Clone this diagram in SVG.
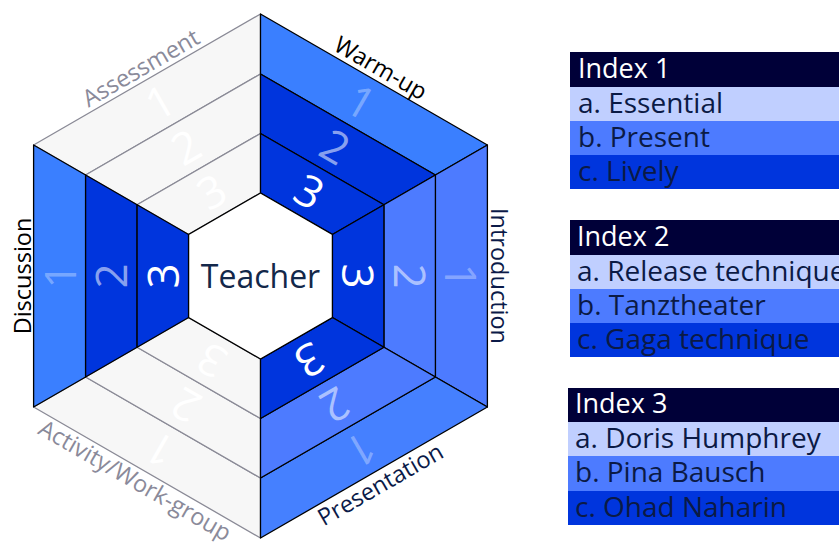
<svg xmlns="http://www.w3.org/2000/svg" width="839" height="545" viewBox="0 0 839 545">
  <style>
    text { font-family: "Open Sans", "Noto Sans", "DejaVu Sans", sans-serif; }
    .g  { fill: #f7f7f7; stroke: #8a8a96; stroke-width: 1.3; stroke-linejoin: round; }
    .b1 { fill: #3a7fff; stroke: #000; stroke-width: 1.3; stroke-linejoin: round; }
    .b2 { fill: #4d7bff; stroke: #000; stroke-width: 1.3; stroke-linejoin: round; }
    .b3 { fill: #0035dd; stroke: #000; stroke-width: 1.3; stroke-linejoin: round; }
    .num { font-size: 44px; text-anchor: middle; fill: #fff; }
    .n1 { fill-opacity: 0.33; }
    .n2 { fill-opacity: 0.55; }
    .side { font-size: 23.5px; text-anchor: middle; }
    .grey { fill: #8a8a9a; }
    .dark { fill: #000; }
    .navy { fill: #0b1a48; }
    .hd { fill: #000038; }
    .ra { fill: #c0cfff; }
    .rb { fill: #4d7bff; }
    .rc { fill: #0035dd; }
    .ht { font-size: 27px; fill: #fff; }
    .rt { font-size: 28px; fill: #0b1a45; }
  </style>

  <!-- Assessment (upper-left side) -->
  <g id="assessment">
    <polygon class="g" points="33.6,145 260.5,14 260.5,74 85.6,175"/>
    <polygon class="g" points="85.6,175 260.5,74 260.5,133.5 137.1,204.75"/>
    <polygon class="g" points="137.1,204.75 260.5,133.5 260.5,193 188.6,234.5"/>
    <text class="num" transform="translate(160,102) rotate(-30)" y="16">1</text>
    <text class="num" transform="translate(185.9,146.8) rotate(-30)" y="16">2</text>
    <text class="num" transform="translate(211.7,191.5) rotate(-30)" y="16">3</text>
    <text class="side grey" transform="translate(145,75) rotate(-30)">Assessment</text>
  </g>

  <!-- Activity/Work-group (lower-left side) -->
  <g id="activity">
    <polygon class="g" points="260.5,538 33.6,407 85.6,377 260.5,478"/>
    <polygon class="g" points="260.5,478 85.6,377 137.1,347.25 260.5,418.5"/>
    <polygon class="g" points="260.5,418.5 137.1,347.25 188.6,317.5 260.5,359"/>
    <text class="num" transform="translate(160,450) rotate(210)" y="16">1</text>
    <text class="num" transform="translate(185.9,405.2) rotate(210)" y="16">2</text>
    <text class="num" transform="translate(211.7,360.5) rotate(210)" y="16">3</text>
    <text class="side grey" transform="translate(131,487.5) rotate(30)">Activity/Work-group</text>
  </g>

  <!-- Warm-up (upper-right side) -->
  <g id="warmup">
    <polygon class="b1" points="260.5,14 487.4,145 435.4,175 260.5,74"/>
    <polygon class="b3" points="260.5,74 435.4,175 383.9,204.75 260.5,133.5"/>
    <polygon class="b3" points="260.5,133.5 383.9,204.75 332.4,234.5 260.5,193"/>
    <text class="num n1" transform="translate(361,102) rotate(30)" y="16">1</text>
    <text class="num n2" transform="translate(335.1,146.8) rotate(30)" y="16">2</text>
    <text class="num" transform="translate(309.3,191.5) rotate(30)" y="16">3</text>
    <text class="side dark" transform="translate(376.5,75) rotate(30)">Warm-up</text>
  </g>

  <!-- Introduction (right side) -->
  <g id="introduction">
    <polygon class="b2" points="487.4,145 487.4,407 435.4,377 435.4,175"/>
    <polygon class="b2" points="435.4,175 435.4,377 383.9,347.25 383.9,204.75"/>
    <polygon class="b3" points="383.9,204.75 383.9,347.25 332.4,317.5 332.4,234.5"/>
    <text class="num n1" transform="translate(461.4,276) rotate(90)" y="16">1</text>
    <text class="num n2" transform="translate(409.7,276) rotate(90)" y="16">2</text>
    <text class="num" transform="translate(358.1,276) rotate(90)" y="16">3</text>
    <text class="side navy" transform="translate(491,276) rotate(90)">Introduction</text>
  </g>

  <!-- Presentation (lower-right side) -->
  <g id="presentation">
    <polygon class="b1" points="487.4,407 260.5,538 260.5,478 435.4,377" style="fill:#4580ff"/>
    <polygon class="b2" points="435.4,377 260.5,478 260.5,418.5 383.9,347.25"/>
    <polygon class="b3" points="383.9,347.25 260.5,418.5 260.5,359 332.4,317.5"/>
    <text class="num n1" transform="translate(361,450) rotate(150)" y="16">1</text>
    <text class="num n2" transform="translate(335.1,405.2) rotate(150)" y="16">2</text>
    <text class="num" transform="translate(309.3,360.5) rotate(150)" y="16">3</text>
    <text class="side navy" transform="translate(384.5,491.5) rotate(-30)">Presentation</text>
  </g>

  <!-- Discussion (left side) -->
  <g id="discussion">
    <polygon class="b1" points="33.6,407 33.6,145 85.6,175 85.6,377"/>
    <polygon class="b3" points="85.6,377 85.6,175 137.1,204.75 137.1,347.25"/>
    <polygon class="b3" points="137.1,347.25 137.1,204.75 188.6,234.5 188.6,317.5"/>
    <text class="num n1" transform="translate(59.6,276) rotate(-90)" y="16">1</text>
    <text class="num n2" transform="translate(111.3,276) rotate(-90)" y="16">2</text>
    <text class="num" transform="translate(162.9,276) rotate(-90)" y="16">3</text>
    <text class="side dark" transform="translate(30.5,276) rotate(-90)">Discussion</text>
  </g>

  <!-- Centre -->
  <g id="teacher">
    <polygon points="260.5,193 332.4,234.5 332.4,317.5 260.5,359 188.6,317.5 188.6,234.5" fill="#fff" stroke="#000" stroke-width="1.3"/>
    <text x="260.5" y="288" font-size="32" text-anchor="middle" fill="#13284a">Teacher</text>
  </g>

  <!-- Legend tables -->
  <g id="index1">
    <rect class="hd" x="570" y="52" width="280" height="35"/>
    <rect class="ra" x="570" y="87" width="280" height="34"/>
    <rect class="rb" x="570" y="121" width="280" height="34"/>
    <rect class="rc" x="570" y="155" width="280" height="34"/>
    <text class="ht" x="578" y="78">Index 1</text>
    <text class="rt" x="578" y="113">a. Essential</text>
    <text class="rt" x="578" y="147">b. Present</text>
    <text class="rt" x="578" y="181">c. Lively</text>
  </g>

  <g id="index2">
    <rect class="hd" x="570" y="220" width="280" height="35"/>
    <rect class="ra" x="570" y="255" width="280" height="34"/>
    <rect class="rb" x="570" y="289" width="280" height="34"/>
    <rect class="rc" x="570" y="323" width="280" height="34"/>
    <text class="ht" x="577" y="246">Index 2</text>
    <text class="rt" x="577" y="281">a. Release technique</text>
    <text class="rt" x="577" y="315">b. Tanztheater</text>
    <text class="rt" x="577" y="349">c. Gaga technique</text>
  </g>

  <g id="index3">
    <rect class="hd" x="568" y="388" width="280" height="34"/>
    <rect class="ra" x="568" y="422" width="280" height="34"/>
    <rect class="rb" x="568" y="456" width="280" height="35"/>
    <rect class="rc" x="568" y="491" width="280" height="34"/>
    <text class="ht" x="575" y="413">Index 3</text>
    <text class="rt" x="575" y="448">a. Doris Humphrey</text>
    <text class="rt" x="575" y="482">b. Pina Bausch</text>
    <text class="rt" x="575" y="517">c. Ohad Naharin</text>
  </g>
</svg>
